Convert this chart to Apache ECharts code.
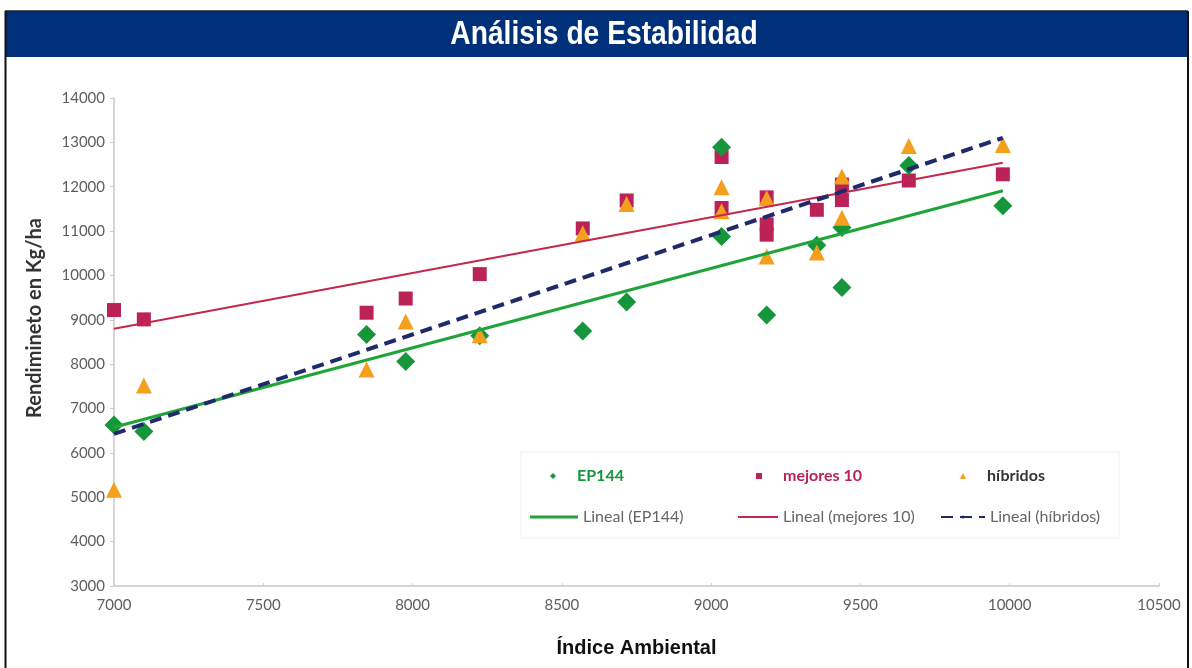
<!DOCTYPE html>
<html>
<head>
<meta charset="utf-8">
<style>
html,body{margin:0;padding:0;background:#fff;}
#chart{width:1192px;height:668px;}
</style>
<script src="https://cdn.jsdelivr.net/npm/echarts@6/dist/echarts.min.js"></script>
</head>
<body>
<div id="chart"></div>
<script>
// ---- data ----
var xTicks = [7000, 7500, 8000, 8500, 9000, 9500, 10000, 10500];
var yTicks = [3000, 4000, 5000, 6000, 7000, 8000, 9000, 10000, 11000, 12000, 13000, 14000];

var ep144 = [
  [7000, 6630], [7100, 6480], [7846, 8670], [7977, 8060], [8225, 8640],
  [8570, 8750], [8717, 9400], [9035, 12890], [9035, 10880], [9186, 9110],
  [9354, 10680], [9438, 11080], [9438, 9730], [9662, 12480], [9977, 11570]
];
var mejores10 = [
  [7000, 9220], [7100, 9010], [7846, 9160], [7977, 9480], [8225, 10030],
  [8570, 11060], [8717, 11690], [9035, 12670], [9035, 11520], [9186, 11760],
  [9186, 11150], [9186, 10920], [9354, 11480], [9438, 12050], [9438, 11700],
  [9662, 12140], [9977, 12280]
];
var hibridos = [
  [7000, 5170], [7100, 7520], [7846, 7880], [7977, 8960], [8225, 8650],
  [8570, 10950], [8717, 11610], [9035, 11990], [9035, 11450], [9186, 11740],
  [9186, 10430], [9354, 10520], [9438, 12230], [9438, 11300], [9662, 12920],
  [9977, 12940]
];
// trend line end points
var trendEP144 = [[7000, 6580], [9977, 11910]];
var trendMejores = [[7000, 8800], [9977, 12540]];
var trendHibridos = [[7000, 6430], [9977, 13100]];

var C_GREEN = '#15963a', C_MAG = '#bb2358', C_ORANGE = '#f4a01c', C_NAVY = '#1f2a6b';
var tickFont = 'Lato, "Open Sans", sans-serif';

var chart = echarts.init(document.getElementById('chart'));

function legendItem(name, left, top, icon, w, h, textStyle) {
  return {
    data: [{ name: name, icon: icon }],
    left: left, top: top, itemWidth: w, itemHeight: h, itemGap: 4,
    selectedMode: false, textStyle: textStyle, padding: 0
  };
}

var option = {
  backgroundColor: '#ffffff',
  animation: false,
  graphic: [
    { type: 'rect', z: -10, shape: { x: 5, y: 11, width: 1183, height: 46 }, style: { fill: '#003079' } },
    { type: 'text', z: 50, x: 604, y: 35, scaleX: 0.83,
      style: { text: 'Análisis de Estabilidad', fill: '#ffffff', font: 'bold 34px "Liberation Sans", Arial, sans-serif',
               textAlign: 'center', textVerticalAlign: 'middle' } },
    { type: 'text', z: 50, x: 35, y: 318, rotation: Math.PI / 2,
      style: { text: 'Rendimineto en Kg/ha', fill: '#333333', font: 'bold 20px Lato, "Open Sans", sans-serif',
               textAlign: 'center', textVerticalAlign: 'middle' } },
    { type: 'line', z: 100, shape: { x1: 5.5, y1: 11, x2: 5.5, y2: 668 }, style: { stroke: '#111', lineWidth: 2 } },
    { type: 'line', z: 100, shape: { x1: 1188, y1: 11, x2: 1188, y2: 668 }, style: { stroke: '#111', lineWidth: 2 } },
    { type: 'line', z: 100, shape: { x1: 5, y1: 11, x2: 1188, y2: 11 }, style: { stroke: '#222', lineWidth: 1.5 } },
    { type: 'rect', z: -5, shape: { x: 521, y: 452, width: 598, height: 86 }, style: { fill: 'rgba(0,0,0,0)', stroke: '#f0f0f0', lineWidth: 1 } }
  ],
  grid: { left: 114, right: 33, top: 98, bottom: 82 },
  xAxis: {
    type: 'value', min: xTicks[0], max: xTicks[xTicks.length - 1], interval: 500,
    name: 'Índice Ambiental', nameLocation: 'middle', nameGap: 52,
    nameTextStyle: { color: '#111', fontFamily: '"Liberation Sans", Arial, sans-serif', fontWeight: 'bold', fontSize: 20 },
    axisLine: { show: true, lineStyle: { color: '#c8c8c8', width: 1.5 } },
    axisTick: { show: true, inside: true, length: 3, lineStyle: { color: '#d0d0d0' } },
    axisLabel: { color: '#5e5e5e', fontFamily: tickFont, fontSize: 15, margin: 12, formatter: function (v) { return String(v); } },
    splitLine: { show: false }
  },
  yAxis: {
    type: 'value', min: yTicks[0], max: yTicks[yTicks.length - 1], interval: 1000,
    axisLine: { show: true, lineStyle: { color: '#c8c8c8', width: 1.5 } },
    axisTick: { show: true, length: 4, lineStyle: { color: '#c8c8c8' } },
    axisLabel: { color: '#5e5e5e', fontFamily: tickFont, fontSize: 15, margin: 9, formatter: function (v) { return String(v); } },
    splitLine: { show: false }
  },
  legend: [
    legendItem('EP144', 550, 468, 'diamond', 6, 6, { color: C_GREEN, fontFamily: tickFont, fontWeight: 'bold', fontSize: 16, padding: [0, 0, 0, 16] }),
    legendItem('mejores 10', 756, 468, 'rect', 6, 6, { color: C_MAG, fontFamily: tickFont, fontWeight: 'bold', fontSize: 16, padding: [0, 0, 0, 16] }),
    legendItem('híbridos', 960, 468, 'triangle', 6, 6, { color: '#333', fontFamily: tickFont, fontWeight: 'bold', fontSize: 16, padding: [0, 0, 0, 16] }),
    legendItem('Lineal (EP144)', 530, 509, 'rect', 48, 3, { color: '#666', fontFamily: tickFont, fontSize: 16 }),
    legendItem('Lineal (mejores 10)', 738, 509, 'rect', 40, 2, { color: '#666', fontFamily: tickFont, fontSize: 16 }),
    { data: ['Lineal (híbridos)'], left: 940, top: 509, itemWidth: 44, itemHeight: 4, itemGap: 4, selectedMode: false, padding: 0,
      textStyle: { color: '#666', fontFamily: tickFont, fontSize: 16 } }
  ],
  series: [
    { name: 'mejores 10', type: 'scatter', data: mejores10, symbol: 'rect', symbolSize: 14,
      itemStyle: { color: C_MAG, opacity: 1 }, z: 2 },
    { name: 'EP144', type: 'scatter', data: ep144, symbol: 'diamond', symbolSize: 19,
      itemStyle: { color: C_GREEN, opacity: 1 }, z: 3 },
    { name: 'híbridos', type: 'scatter', data: hibridos, symbol: 'triangle', symbolSize: 16,
      itemStyle: { color: C_ORANGE, opacity: 1 }, z: 4 },
    { name: 'Lineal (EP144)', type: 'line', data: trendEP144, symbol: 'none', z: 5,
      lineStyle: { color: '#1fa438', width: 3 }, itemStyle: { color: '#1fa438' } },
    { name: 'Lineal (mejores 10)', type: 'line', data: trendMejores, symbol: 'none', z: 5,
      lineStyle: { color: '#c4284e', width: 2 }, itemStyle: { color: '#c4284e' } },
    { name: 'Lineal (híbridos)', type: 'line', data: trendHibridos, symbol: 'none', z: 6,
      lineStyle: { color: C_NAVY, width: 4, type: [12, 7] }, itemStyle: { color: C_NAVY } }
  ]
};
chart.setOption(option);
</script>
</body>
</html>
